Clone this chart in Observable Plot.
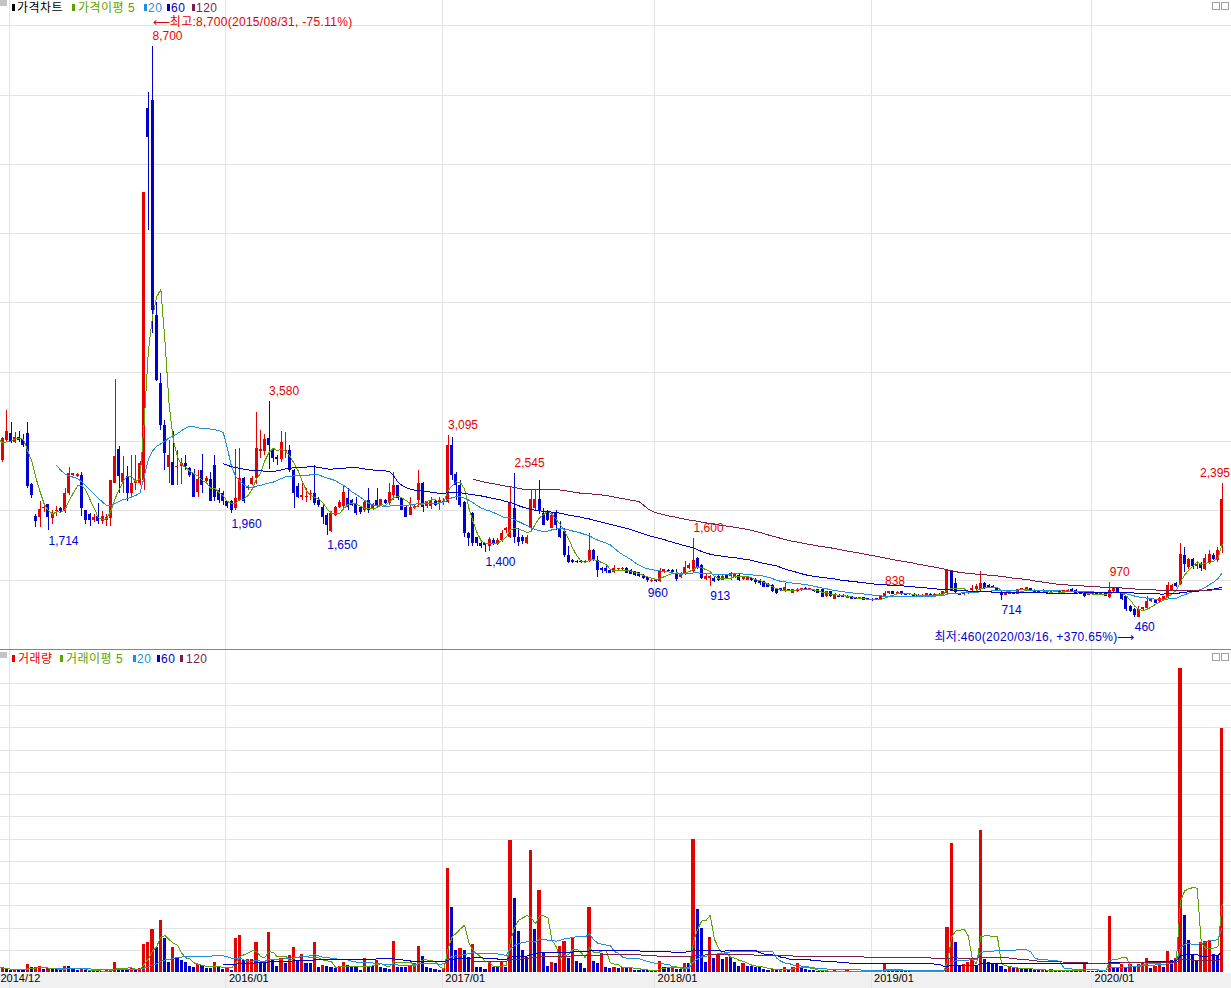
<!DOCTYPE html>
<html><head><meta charset="utf-8">
<script src="https://cdn.jsdelivr.net/npm/d3@7"></script>
<script src="https://cdn.jsdelivr.net/npm/@observablehq/plot@0.6"></script>
<style>
body{margin:0;background:#fff;}
#wrap{position:relative;width:1231px;height:988px;overflow:hidden;font-family:"Liberation Sans","Noto Sans CJK KR",sans-serif;}
#wrap svg{display:block;shape-rendering:crispEdges;}
.lg{position:absolute;font-size:12px;line-height:14px;white-space:nowrap;letter-spacing:0.5px;}
.sw{position:absolute;width:3px;height:7px;}
.sep{position:absolute;left:0;top:649px;width:1231px;height:1px;background:#858585;}
.box{position:absolute;width:6px;height:6px;border:1px solid #a0a0a0;background:#fff;}
</style></head><body>
<div id="wrap"></div>
<script>
// ---- data: weekly candles, first element = slot -8 (six hidden weeks used by the moving averages)
const FIRST_SLOT = -8;
const opens = [3300,3400,3300,3050,2950,2900,
2727,3014,3120,2990,3060,3024,3120,2383,1914,1904,2030,2096,
1890,1990,2030,1990,2244,2510,2500,2510,2010,1950,
1860,1914,1842,1860,1890,2395,2882,2410,2496,2250,
2395,2400,2440,7800,7920,4820,3838,3230,2630,2700,
2620,2640,2690,2610,2540,2270,2580,2420,2460,2650,
2300,2250,2130,2130,2030,2150,2470,2330,2380,2470,
2850,2860,3038,2880,2775,2737,2850,2871,2584,2350,
2200,2190,2230,2250,2150,2050,1930,1700,1935,2050,
2060,2175,2150,2100,2050,2000,2150,2030,2150,2080,
2150,2100,2220,2365,2175,2050,1935,2040,2150,2390,
2060,2060,2130,2100,2120,2125,2940,2530,2360,2125,
1680,1960,1620,1530,1510,1490,1580,1520,1575,1720,
1620,2030,1620,1620,1530,1742,2030,2160,1958,1980,
1742,1958,1742,1700,1358,1290,1260,1260,1255,1270,
1430,1290,1170,1170,1135,1115,1150,1150,1165,1135,
1120,1105,1070,1040,980,1000,975,1115,1145,1140,
1085,1040,1095,1170,1120,1310,1215,1010,1025,1025,
1060,1000,1070,1050,1040,1070,1010,1000,1025,1010,
1000,975,950,930,865,860,830,860,815,830,
845,880,855,865,865,865,760,830,725,785,
785,735,760,750,725,745,730,725,735,720,
760,810,830,810,830,810,790,800,785,760,
770,800,785,800,785,810,1120,950,810,790,
810,845,860,860,955,930,915,895,820,785,
800,815,800,850,855,880,855,845,830,830,
820,835,830,820,830,870,855,830,820,785,
795,815,800,805,745,830,880,820,760,625,
580,465,570,595,690,715,690,720,740,845,
950,940,1360,1180,1300,1200,1220,1160,1250,1350,1290,1480];
const highs = [3500,3450,3320,3100,3000,3000,
3060,3445,3278,3130,3150,3100,3280,2390,1952,2134,2057,2096,
2010,2060,2050,2330,2625,2540,2540,2550,2010,1960,
1950,2105,1990,1950,2440,3896,2929,2790,2636,2800,
2800,2710,6600,8040,8700,5000,3980,3300,3020,3150,
2870,2750,2800,2630,2600,2580,2820,2500,2560,2800,
2330,2280,2140,2150,2890,2900,2480,2370,2500,3421,
3158,3100,3580,2900,2800,3150,3134,2950,2600,2400,
2400,2330,2300,2650,2200,2080,1960,1990,2070,2150,
2370,2320,2170,2200,2060,2150,2320,2100,2320,2170,
2170,2400,2560,2370,2180,2060,2200,2090,2580,2415,
2140,2200,2150,2200,2180,3095,3060,2560,2440,2140,
1690,1970,1620,1560,1520,1620,1600,1600,1720,1760,
2340,2545,1740,1650,1640,2300,2300,2440,2030,2000,
1980,2000,1850,1750,1480,1300,1280,1280,1290,1670,
1450,1335,1190,1200,1150,1210,1170,1180,1190,1150,
1130,1110,1080,1050,1010,1010,1170,1160,1160,1160,
1160,1110,1265,1240,1600,1330,1220,1090,1070,1040,
1080,1070,1080,1110,1100,1080,1050,1050,1035,1030,
1010,980,955,935,870,870,950,870,870,875,
885,890,870,870,870,870,835,840,810,795,
790,780,765,755,750,750,735,730,740,775,
838,830,835,830,835,815,815,805,790,790,
815,810,805,805,835,1160,1130,1025,815,825,
840,930,945,1130,960,935,920,900,830,825,
835,820,870,880,895,885,860,850,860,835,
845,840,835,850,860,885,860,835,825,815,
820,820,815,810,970,900,885,825,770,630,
590,620,610,760,720,720,750,770,960,935,
960,1530,1470,1320,1310,1250,1260,1370,1430,1380,1470,2395];
const lows = [3200,3250,3000,2900,2850,2850,
2700,2990,2966,2966,2980,2920,2320,2177,1761,1761,1971,1714,
1808,1920,1970,1960,2215,2490,2480,1914,1808,1770,
1830,1800,1800,1770,1770,2390,2252,2252,2135,2200,
2300,2370,2300,6050,4560,3860,3160,2590,2400,2370,
2360,2380,2580,2480,2200,2200,2250,2380,2130,2130,
2110,2080,2040,1960,2000,2130,2100,2300,2360,2380,
2750,2800,2600,2700,2650,2700,2750,2560,2040,2180,
2150,2120,2150,2080,2050,1800,1650,1690,1920,2030,
2010,2000,2060,1935,1950,1970,1960,2000,2040,2070,
2090,2080,2150,2150,2000,1900,1930,2020,2050,1980,
2040,2020,2070,2000,2080,2100,2440,2150,2050,1620,
1480,1480,1480,1460,1400,1420,1500,1500,1550,1680,
1600,1530,1480,1520,1510,1720,2000,1950,1790,1840,
1740,1720,1600,1330,1238,1240,1240,1240,1240,1260,
1265,1045,1100,1090,1090,1090,1130,1120,1090,1080,
1060,1040,1010,960,970,970,970,1100,1110,1090,
980,1020,1070,1150,1095,1150,1015,1000,913,960,
980,990,1010,1000,1030,975,1000,990,985,940,
930,890,890,820,800,830,825,830,810,825,
840,850,850,825,810,745,755,755,715,745,
745,730,715,715,720,705,710,690,700,715,
740,800,790,800,780,780,785,765,745,755,
765,775,780,765,780,800,830,810,780,785,
800,840,855,835,870,875,875,850,714,780,
795,795,795,845,850,840,815,815,825,805,
815,825,805,815,825,835,805,795,755,780,
790,780,795,765,740,825,815,710,545,540,
460,462,560,590,685,660,685,715,735,840,
900,920,1110,1150,1150,1150,1130,1140,1230,1280,1260,1385];
const closes = [3400,3300,3050,2950,2900,2960,
3038,3144,2990,3062,3010,2943,2345,2225,1842,2019,2040,1904,
1962,2010,1990,2244,2540,2520,2520,2033,1866,1866,
1900,1842,1914,1905,2440,2785,2496,2540,2250,2395,
2440,2690,6595,7390,4890,3880,3230,2830,2800,2370,
2640,2690,2640,2510,2200,2460,2370,2470,2130,2200,
2150,2130,2060,2010,2180,2470,2130,2345,2470,2900,
2880,3030,2943,2760,2737,2990,2870,2584,2250,2200,
2210,2200,2250,2100,2080,1910,1790,1960,2050,2120,
2270,2055,2080,1960,1970,2125,2010,2080,2060,2160,
2100,2270,2365,2175,2010,1910,2050,2070,2390,2050,
2130,2150,2080,2150,2140,2940,2510,2360,2080,1670,
1600,1525,1535,1490,1500,1585,1530,1580,1680,1740,
2100,1620,1550,1560,1620,2160,2160,2006,1790,1860,
1934,1790,1622,1360,1260,1250,1250,1255,1270,1430,
1290,1140,1145,1120,1095,1170,1150,1160,1095,1085,
1070,1060,1025,990,1000,975,1145,1150,1120,1105,
1010,1095,1190,1215,1290,1170,1025,1060,1060,975,
990,1060,1025,1095,1095,1000,1040,1040,990,960,
950,895,895,830,815,855,895,835,860,865,
880,855,865,830,815,750,830,760,800,750,
750,770,720,720,745,710,715,710,715,770,
815,820,800,825,790,785,810,770,750,785,
810,780,800,770,830,1145,835,820,785,820,
835,880,905,955,880,880,880,855,785,820,
830,800,865,875,890,845,820,820,855,810,
840,830,810,845,855,840,810,800,760,810,
815,785,810,770,855,895,820,715,570,545,
485,580,605,690,715,665,740,760,930,930,
905,1375,1230,1300,1200,1230,1170,1320,1370,1300,1430,2165];
// volume in units of one volume grid step
const volumes = [0.30,0.25,0.30,0.20,0.15,0.15,
0.21,0.14,0.10,0.12,0.12,0.09,0.36,0.21,0.24,0.28,0.12,0.16,
0.12,0.12,0.09,0.28,0.27,0.12,0.10,0.12,0.07,0.06,
0.06,0.06,0.06,0.07,0.10,0.46,0.16,0.16,0.12,0.16,
0.12,0.16,1.26,1.35,1.93,1.11,2.34,1.54,0.46,1.14,
0.69,0.54,0.46,0.27,0.21,0.36,0.31,0.19,0.16,0.46,
0.21,0.12,0.16,0.09,1.54,1.66,0.54,0.58,0.60,1.36,
0.46,0.39,1.81,0.57,0.27,0.61,0.42,0.76,1.14,0.49,
0.81,0.42,0.42,1.36,0.24,0.31,0.27,0.21,0.18,0.27,
0.46,0.31,0.21,0.21,0.09,0.64,0.27,0.27,0.54,0.24,
0.16,0.12,1.39,0.24,0.24,0.21,0.31,0.39,1.18,0.72,
0.21,0.16,0.12,0.09,0.16,4.67,2.94,0.99,1.06,0.99,
0.69,1.26,0.21,0.21,0.15,0.46,0.21,0.21,0.46,0.21,
5.93,3.31,1.86,0.99,0.69,5.48,1.93,3.69,0.91,0.27,
0.46,0.42,1.17,1.39,0.64,1.54,0.50,0.40,0.20,2.92,
0.51,0.39,0.85,0.24,0.20,0.22,0.20,0.22,0.20,0.21,
0.10,0.09,0.08,0.08,0.08,0.08,0.49,0.24,0.18,0.24,
0.12,0.12,0.39,0.39,6.00,2.83,2.00,0.46,1.59,0.64,
0.80,0.58,0.69,0.69,0.46,0.27,0.39,0.27,0.27,0.24,
0.24,0.12,0.08,0.12,0.08,0.12,0.24,0.12,0.24,0.39,
0.18,0.12,0.08,0.07,0.06,0.06,0.07,0.06,0.08,0.06,
0.06,0.07,0.06,0.05,0.06,0.05,0.05,0.05,0.06,0.08,
0.36,0.10,0.08,0.07,0.07,0.06,0.06,0.05,0.05,0.06,
0.06,0.05,0.05,0.05,0.06,2.04,5.78,1.36,0.26,0.34,
0.47,0.58,0.26,6.38,0.58,0.43,0.37,0.34,0.26,0.14,
0.22,0.18,0.20,0.18,0.15,0.12,0.10,0.10,0.12,0.10,
0.12,0.08,0.07,0.08,0.10,0.08,0.07,0.07,0.34,0.06,
0.05,0.05,0.05,0.05,2.52,0.24,0.16,0.36,0.16,0.36,
0.28,0.36,0.46,0.64,0.19,0.28,0.42,0.24,0.96,0.54,
0.62,13.66,2.56,1.44,0.80,0.49,1.36,1.40,1.44,0.80,0.78,10.97];

const yearTickLabels = ["2014/12","2016/01","2017/01","2018/01","2019/01","2020/01"];
const yearTickSlots = [0,52,104,155,207,260];
const highLabelSlots = [34,62,105,121,164,210,264,291];
const lowLabelSlots = [9,53,76,114,153,168,238,270];
const extremeDates = ["2015/08/31","2020/03/16"];
const priceGrid = [1000,2000,3000,4000,5000,6000,7000,8000,9000];
const volumeGrid = [1,2,3,4,5,6,7,8,9,10,11,12,13];
const maPeriods = [5,20,60,120];
const maColors = ["#5aa300","#1e8fde","#0000c8","#7c1e4e"];

const RED = "#e60000", BLUE = "#0000d2", GRID = "#e3e3e3";
const FONT = "Liberation Sans, Noto Sans CJK KR, sans-serif";
const xDomain = [-10.5/4.162, (1231-10.5)/4.162];

const data = closes.map((c,i)=>({s:i+FIRST_SLOT,o:opens[i],h:highs[i],l:lows[i],c,v:volumes[i]}));
data.forEach((d,i)=>{d.up = d.c>=d.o; d.vUp = i===0 ? true : d.v>data[i-1].v;});
const visible = data.filter(d=>d.s>=-2);
const bySlot = new Map(data.map(d=>[d.s,d]));

function movingAverage(values,n){return values.map((_,i)=> i<n-1 ? null : d3.mean(values.slice(i-n+1,i+1)));}
function maPoints(series){return data.map((d,i)=>({s:d.s,y:series[i]})).filter(p=>p.y!=null && p.s>=-3);}
const priceMA = maPeriods.map(n=>movingAverage(closes,n));
const volMA = maPeriods.map(n=>movingAverage(volumes,n));

const fmt = d3.format(",");
const last = closes[closes.length-1];
const maxD = visible[d3.maxIndex(visible,d=>d.h)];
const minD = visible[d3.minIndex(visible,d=>d.l)];
const pct = r => (r>=0?"+":"") + (r*100).toFixed(2) + "%";
const maxNote = [{s:maxD.s,y:maxD.h,text:`⟵최고:${fmt(maxD.h)}(${extremeDates[0]}, ${pct(last/maxD.h-1)})`}];
const minNote = [{s:minD.s,y:minD.l,text:`최저:${fmt(minD.l)}(${extremeDates[1]}, ${pct(last/minD.l-1)})⟶`}];
const hiLabels = highLabelSlots.map(s=>({s,y:bySlot.get(s).h,text:fmt(bySlot.get(s).h)}));
const loLabels = lowLabelSlots.map(s=>({s,y:bySlot.get(s).l,text:fmt(bySlot.get(s).l)}));
const clampX = d => Math.min(d.s, xDomain[1] - (d.text.length*6.3)/4.162);

const price = Plot.plot({
  width:1231, height:649, margin:0,
  x:{type:"linear",domain:xDomain,range:[0,1231],axis:null},
  y:{domain:[0,9365],range:[649,0],axis:null},
  color:{type:"identity"},
  style:{background:"#fff",fontFamily:FONT},
  marks:[
    Plot.ruleY(priceGrid,{stroke:GRID}),
    Plot.ruleX(yearTickSlots.map(s=>s-0.36),{stroke:GRID}),
    Plot.ruleX(visible,{x:"s",y1:"l",y2:"h",stroke:d=>d.up?RED:BLUE,strokeWidth:1}),
    Plot.rect(visible,{x1:d=>d.s-0.36,x2:d=>d.s+0.36,
      y1:d=>Math.min(d.o,d.c), y2:d=>Math.max(d.o,d.c)+(Math.abs(d.o-d.c)<14?14:0),
      fill:d=>d.up?RED:BLUE}),
    ...maPeriods.map((n,k)=>Plot.line(maPoints(priceMA[k]),{x:"s",y:"y",stroke:maColors[k],strokeWidth:1,clip:true})),
    Plot.text(hiLabels,{x:clampX,y:"y",text:"text",textAnchor:"start",dy:-10,fill:RED,fontSize:12,fontFamily:FONT}),
    Plot.text(loLabels,{x:"s",y:"y",text:"text",textAnchor:"start",dy:10,fill:BLUE,fontSize:12,fontFamily:FONT}),
    Plot.text(maxNote,{x:"s",y:"y",text:"text",textAnchor:"start",dy:-24,fill:RED,fontSize:12,fontFamily:FONT}),
    Plot.text(minNote,{x:"s",y:"y",text:"text",textAnchor:"end",dy:20,fill:BLUE,fontSize:12,fontFamily:FONT})
  ]
});
// widen the two long notes a little, like the reference's bitmap font
price.querySelectorAll("text").forEach(t=>{
  const s=t.textContent||"";
  if(s.startsWith("⟵")||s.startsWith("최저")) t.style.letterSpacing="0.3px";
});

const volTop = 322/22.25;
const volume = Plot.plot({
  width:1231, height:338, margin:0,
  x:{type:"linear",domain:xDomain,range:[0,1231],axis:null},
  y:{domain:[0,volTop],range:[322,0],axis:null},
  color:{type:"identity"},
  style:{background:"linear-gradient(to bottom,#fff 0,#fff 323px,#f0f0f0 323px,#f0f0f0 100%)",fontFamily:FONT},
  marks:[
    Plot.ruleY(volumeGrid,{stroke:GRID}),
    Plot.ruleX(yearTickSlots.map(s=>s-0.36),{stroke:GRID}),
    Plot.rect(visible,{x1:d=>d.s-0.38,x2:d=>d.s+0.38,y1:0,y2:"v",fill:d=>d.vUp?RED:BLUE}),
    ...maPeriods.map((n,k)=>Plot.line(maPoints(volMA[k]),{x:"s",y:"y",stroke:maColors[k],strokeWidth:1,clip:true})),
    Plot.text(yearTickLabels,{x:(d,i)=> i===0 ? xDomain[0] : yearTickSlots[i]+0.36,
      frameAnchor:"bottom",dy:-7,text:d=>d,textAnchor:"start",fill:"#000",fontSize:11,fontFamily:FONT})
  ]
});

const wrap = document.getElementById("wrap");
wrap.appendChild(price);
const sep = document.createElement("div"); sep.className="sep"; wrap.appendChild(sep);
volume.style.position="absolute"; volume.style.left="0"; volume.style.top="650px";
wrap.appendChild(volume);

function legend(top, swTop, items){
  items.forEach(it=>{
    const sw=document.createElement("div"); sw.className="sw";
    sw.style.left=it.sx+"px"; sw.style.top=swTop+"px"; sw.style.background=it.color; wrap.appendChild(sw);
    const t=document.createElement("div"); t.className="lg";
    t.style.left=it.tx+"px"; t.style.top=top+"px"; t.style.color=it.color; t.textContent=it.text; wrap.appendChild(t);
  });
}
legend(1,4,[
  {sx:12,tx:17,color:"#000",text:"가격차트"},
  {sx:72,tx:78,color:maColors[0],text:"가격이평 5"},
  {sx:144,tx:148,color:maColors[1],text:"20"},
  {sx:167,tx:171,color:maColors[2],text:"60"},
  {sx:192,tx:196,color:maColors[3],text:"120"}
]);
legend(652,655,[
  {sx:12,tx:18,color:RED,text:"거래량"},
  {sx:60,tx:66,color:maColors[0],text:"거래이평 5"},
  {sx:133,tx:137,color:maColors[1],text:"20"},
  {sx:157,tx:161,color:maColors[2],text:"60"},
  {sx:180,tx:186,color:maColors[3],text:"120"}
]);
[[0,0],[0,652]].forEach(([x,y])=>{const g=document.createElement("div");
  g.style.cssText=`position:absolute;left:${x}px;top:${y}px;width:7px;height:6px;background:#c4c4c4`;wrap.appendChild(g);});
[[1212,2],[1221,2],[1212,653],[1221,653]].forEach(([x,y])=>{const b=document.createElement("div");b.className="box";
  b.style.left=x+"px";b.style.top=y+"px";wrap.appendChild(b);});
</script>
</body></html>
